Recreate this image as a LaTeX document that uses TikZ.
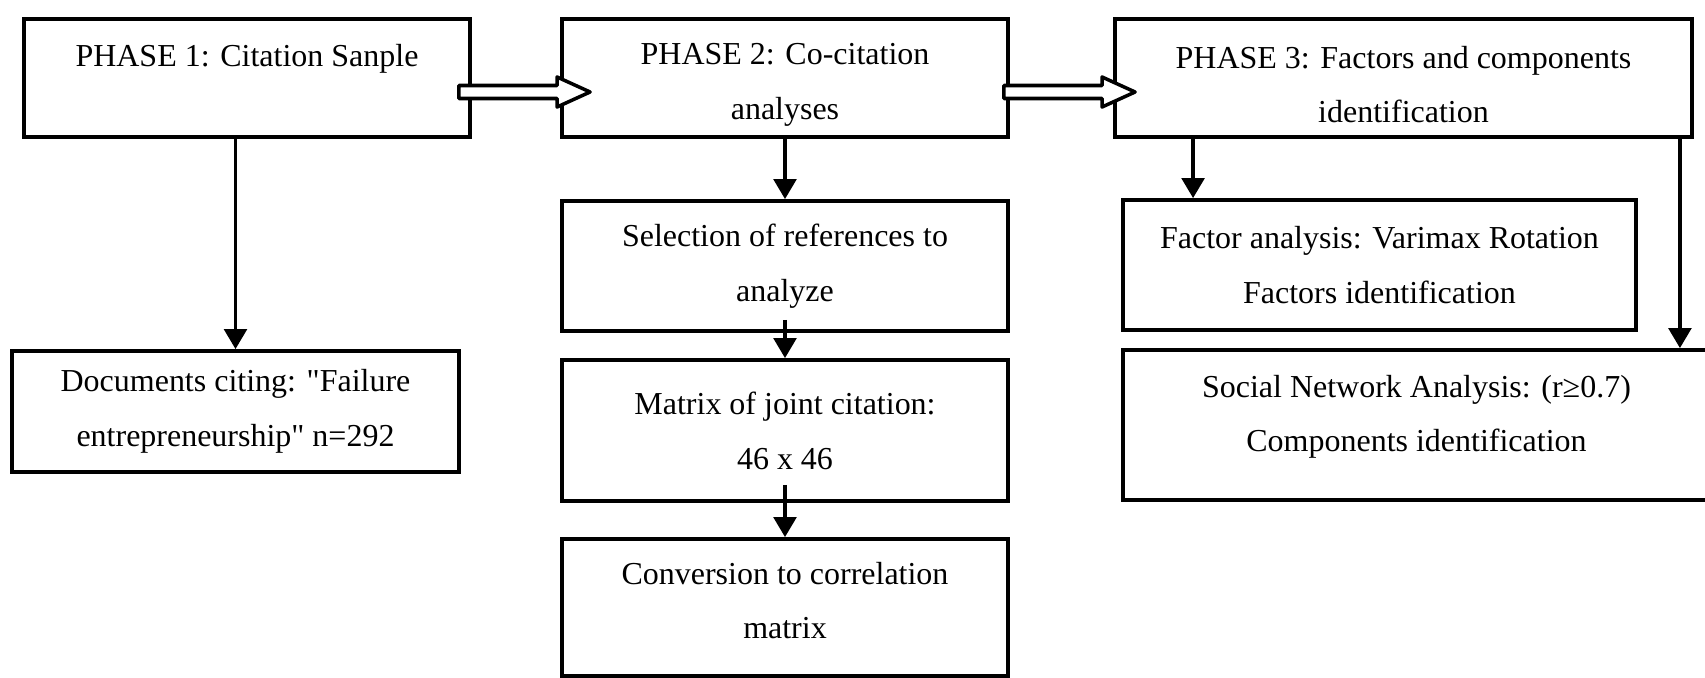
\documentclass[tikz,border=0pt]{standalone}
\usepackage{fontspec}
\setmainfont{Liberation Serif}
\usepackage{tikz}
\usetikzlibrary{arrows.meta, calc}

% hollow block arrow between two phases
\newcommand{\fatarrow}[2]{%
  \draw[fat] ($(#1)+(0,.065)$) -- ($(#2)+(-.33,.065)$) -- ($(#2)+(-.33,.15)$) -- (#2)
    -- ($(#2)+(-.33,-.15)$) -- ($(#2)+(-.33,-.065)$) -- ($(#1)+(0,-.065)$) -- cycle;}

\begin{document}
\begin{tikzpicture}[
  box/.style={draw, line width=1.1pt, align=center, inner sep=0pt,
    font=\fontsize{9.1}{15.6}\selectfont},
  fat/.style={draw, fill=white, line width=1pt, line join=round},
  link/.style={line width=.9pt, -{Triangle[width=6.5pt,length=5.7pt]}}]

 \useasboundingbox (0,0) rectangle (17.05,-6.78);

 % phases
 \node[box, minimum width=4.46cm, minimum height=1.18cm] (p1) at (2.47,-.78)
   {\rule{0pt}{9pt}PHASE 1: Citation Sanple\\\mbox{}};
 \node[box, minimum width=4.46cm, minimum height=1.18cm] (p2) at (7.85,-.78)
   {\rule{0pt}{10pt}PHASE 2: Co-citation\\analyses};
 \node[box, minimum width=5.77cm, minimum height=1.18cm] (p3) at (14.035,-.78)
   {\rule{0pt}{10pt}PHASE 3: Factors and components\\identification};

 \coordinate (s1) at ([xshift=-1.3mm,yshift=-1.4mm]p1.east);
 \coordinate (t1) at ([xshift=3mm,yshift=-1.4mm]p2.west);
 \coordinate (s2) at ([xshift=-.6mm,yshift=-1.4mm]p2.east);
 \coordinate (t2) at ([xshift=2.2mm,yshift=-1.4mm]p3.west);
 \fatarrow{s1}{t1}
 \fatarrow{s2}{t2}

 % phase 1
 \node[box, minimum width=4.47cm, minimum height=1.21cm] (docs) at (2.355,-4.115)
   {Documents citing: \textquotedbl Failure\\entrepreneurship\textquotedbl{} n=292};
 \draw[link] (p1.south -| docs.north) -- (docs.north);

 % phase 2
 \node[box, minimum width=4.46cm, minimum height=1.30cm] (sel) at (7.85,-2.66)
   {Selection of references to\\analyze};
 \node[box, minimum width=4.46cm, minimum height=1.41cm] (mat) at (7.85,-4.305)
   {Matrix of joint citation:\\46 x 46};
 \node[box, minimum width=4.46cm, minimum height=1.37cm] (conv) at (7.85,-6.075)
   {Conversion to correlation\\matrix\rule[-4pt]{0pt}{4pt}};
 \draw[link] (p2.south) -- (sel.north);
 \draw[link] ([yshift=1.3mm]sel.south) -- (mat.north);
 \draw[link] ([yshift=1.8mm]mat.south) -- (conv.north);

 % phase 3
 \node[box, minimum width=5.13cm, minimum height=1.30cm] (fac) at (13.795,-2.65)
   {Factor analysis: Varimax Rotation\\Factors identification};
 \node[box, minimum width=5.87cm, minimum height=1.50cm] (sna) at (14.165,-4.25)
   {Social Network Analysis: (r≥0.7)\\Components identification\\[-9pt]\mbox{}};
 \coordinate (f1) at ([xshift=8mm]p3.south west);
 \coordinate (f2) at ([xshift=-1.4mm]p3.south east);
 \draw[link] (f1) -- (f1 |- fac.north);
 \draw[link] (f2) -- (f2 |- sna.north);

\end{tikzpicture}
\end{document}
